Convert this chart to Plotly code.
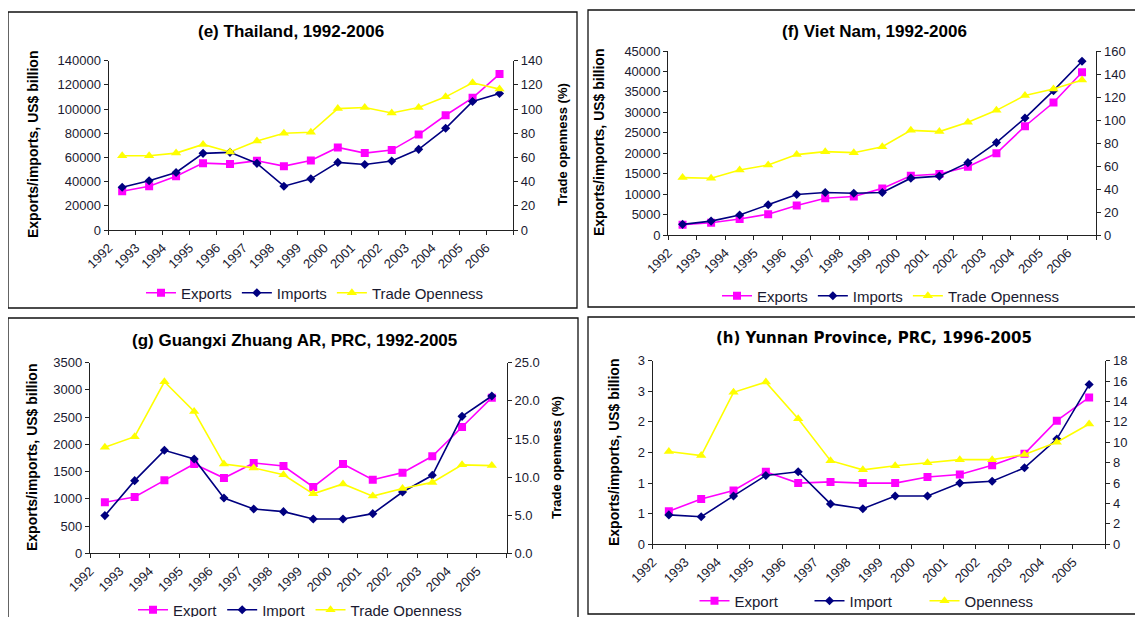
import plotly.graph_objects as go

W, H = 1143, 617
OX, OY = 8, 8  # page body margin of the html page

# ---------------- data ----------------
years_th = list(range(1992, 2007))
th_exports = [32100, 36200, 44500, 55300, 54500, 57300, 52800, 57500, 68300, 63600, 66100, 78900, 94900, 109300, 128900]
th_imports = [35400, 40700, 47600, 63400, 64200, 55100, 36200, 42300, 55900, 54200, 57000, 66700, 84100, 106300, 112900]
th_open = [61.4, 61.4, 63.6, 70.8, 64.5, 73.6, 80.0, 80.8, 100.4, 101.3, 96.8, 101.3, 110.1, 121.7, 116.5]

years_vn = list(range(1992, 2007))
vn_exports = [2500, 3000, 3900, 5100, 7200, 9000, 9400, 11400, 14500, 14900, 16700, 20000, 26600, 32400, 39800]
vn_imports = [2600, 3400, 4900, 7400, 9900, 10400, 10200, 10400, 13900, 14400, 17700, 22600, 28600, 35300, 42500]
vn_open = [49.9, 49.3, 56.5, 60.9, 69.9, 72.5, 71.6, 76.8, 91.0, 89.9, 98.0, 108.4, 121.4, 127.0, 134.8]

years_gx = list(range(1992, 2006))
gx_export = [936, 1034, 1340, 1640, 1383, 1658, 1603, 1218, 1640, 1352, 1481, 1781, 2319, 2858]
gx_import = [692, 1334, 1891, 1732, 1016, 814, 765, 630, 630, 728, 1126, 1432, 2515, 2889]
gx_open = [13.9, 15.3, 22.5, 18.6, 11.7, 11.2, 10.3, 7.8, 9.1, 7.5, 8.5, 9.3, 11.6, 11.5]

years_yn = list(range(1992, 2006))
yn_export = [0.54, 0.74, 0.88, 1.185, 1.0, 1.02, 1.0, 1.0, 1.10, 1.14, 1.29, 1.48, 2.02, 2.40]
yn_import = [0.48, 0.45, 0.79, 1.125, 1.185, 0.66, 0.58, 0.79, 0.79, 1.0, 1.03, 1.25, 1.72, 2.61]
yn_open = [9.1, 8.7, 14.9, 15.9, 12.3, 8.2, 7.3, 7.7, 8.0, 8.3, 8.3, 8.8, 10.0, 11.8]

yn_left_tickvals = [0, 0.5, 1.0, 1.5, 2.0, 2.5, 3.0]
yn_left_ticktext = ["0", "1", "1", "2", "2", "3", "3"]

ARIAL = "Liberation Sans, Arial, sans-serif"
VERD = "DejaVu Sans, Verdana, sans-serif"

panels = [
    dict(title="(e) Thailand, 1992-2006", tfont=(ARIAL, 17), years=years_th,
         s=[("Exports", th_exports), ("Imports", th_imports), ("Trade Openness", th_open)],
         box=(108.7, 60.7, 513, 230), yl=dict(range=[0, 140000], dtick=20000, tickformat="d"),
         yr=dict(range=[0, 140], dtick=20), title_xy=(291, 32),
         lt_xy=(33, 145), rt_xy=(563, 145), leg_xy=(315, 293), entry=None, frame=(8, 12, 577, 308)),
    dict(title="(f) Viet Nam, 1992-2006", tfont=(ARIAL, 17), years=years_vn,
         s=[("Exports", vn_exports), ("Imports", vn_imports), ("Trade Openness", vn_open)],
         box=(668.3, 51, 1096.3, 235), yl=dict(range=[0, 45000], dtick=5000, tickformat="d"),
         yr=dict(range=[0, 160], dtick=20), title_xy=(874, 32),
         lt_xy=(599, 143), rt_xy=(1145, 143), leg_xy=(891, 296), entry=None, frame=(588, 10, 1160, 307)),
    dict(title="(g) Guangxi Zhuang AR, PRC, 1992-2005", tfont=(ARIAL, 17), years=years_gx,
         s=[("Export", gx_export), ("Import", gx_import), ("Trade Openness", gx_open)],
         box=(90, 362.7, 506.7, 553.3), yl=dict(range=[0, 3500], dtick=500, tickformat="d"),
         yr=dict(range=[0, 25], dtick=5, tickformat=".1f"), title_xy=(294, 340),
         lt_xy=(32, 458), rt_xy=(556, 458), leg_xy=(300, 610), entry=None, frame=(8, 318, 578, 640)),
    dict(title="(h) Yunnan Province, PRC, 1996-2005", tfont=(VERD, 15), years=years_yn,
         s=[("Export", yn_export), ("Import", yn_import), ("Openness", yn_open)],
         box=(652.7, 360.7, 1105.3, 544.3),
         yl=dict(range=[0, 3], tickmode="array", tickvals=yn_left_tickvals, ticktext=yn_left_ticktext),
         yr=dict(range=[0, 18], dtick=2), title_xy=(874, 338),
         lt_xy=(614, 453), rt_xy=(1145, 453), leg_xy=(867, 601), entry=70, frame=(588, 317, 1160, 614)),
]

colors = ["#FF00FF", "#000080", "#FFFF00"]
symbols = ["square", "diamond", "triangle-up"]
msizes = [8, 7, 9]

TXT = "#1a1a30"

def px(x):
    return (x - OX) / W

def py(y):
    return 1 - (y - OY) / H

fig = go.Figure()
layout = dict(width=W, height=H, margin=dict(l=0, r=0, t=0, b=0, autoexpand=False),
              paper_bgcolor="white", plot_bgcolor="white", showlegend=True,
              font=dict(family=ARIAL, size=13, color=TXT))
annotations = []
shapes = []

for i, p in enumerate(panels):
    k = i + 1
    xa = "x" if k == 1 else f"x{k}"
    yl_id = 2 * i + 1
    yr_id = 2 * i + 2
    ya_l = "y" if yl_id == 1 else f"y{yl_id}"
    ya_r = f"y{yr_id}"
    leg = "legend" if k == 1 else f"legend{k}"
    x0, y0, x1, y1 = p["box"]
    yrs = p["years"]
    for j, (name, vals) in enumerate(p["s"]):
        fig.add_trace(go.Scatter(
            x=yrs, y=vals, name=name, mode="lines+markers",
            line=dict(color=colors[j], width=1.6),
            marker=dict(symbol=symbols[j], size=msizes[j], color=colors[j],
                        line=dict(width=0)),
            xaxis=xa, yaxis=ya_l if j < 2 else ya_r, legend=leg))
    tv = [y - 0.5 for y in yrs] + [yrs[-1] + 0.5]
    tt = [str(y) for y in yrs] + [""]
    axis_common = dict(showgrid=False, zeroline=False, showline=True, linecolor="#222",
                       linewidth=1.3, ticks="outside", ticklen=4, tickcolor="#222",
                       automargin=False,
                       tickfont=dict(family=ARIAL, size=13, color=TXT))
    layout["xaxis" if k == 1 else f"xaxis{k}"] = dict(
        domain=[px(x0), px(x1)], anchor=ya_l, range=[yrs[0] - 0.5, yrs[-1] + 0.5],
        tickmode="array", tickvals=tv, ticktext=tt, tickangle=-45, **axis_common)
    yl = dict(domain=[py(y1), py(y0)], anchor=xa, side="left", **axis_common)
    yl.update(p["yl"])
    yr = dict(domain=[py(y1), py(y0)], anchor=xa, side="right", overlaying=ya_l, **axis_common)
    yr.update(p["yr"])
    layout["yaxis" if yl_id == 1 else f"yaxis{yl_id}"] = yl
    layout[f"yaxis{yr_id}"] = yr
    legd = dict(orientation="h", x=px(p["leg_xy"][0]), y=py(p["leg_xy"][1]),
                xanchor="center", yanchor="middle", bgcolor="rgba(0,0,0,0)",
                font=dict(family=ARIAL, size=15, color=TXT), itemwidth=30,
                tracegroupgap=0)
    if p["entry"]:
        legd["entrywidth"] = p["entry"]
    layout[leg] = legd
    annotations.append(dict(text=f"<b>{p['title']}</b>", x=px(p["title_xy"][0]), y=py(p["title_xy"][1]),
                            xref="paper", yref="paper", showarrow=False, xanchor="center", yanchor="middle",
                            font=dict(family=p["tfont"][0], size=p["tfont"][1], color="#000")))
    annotations.append(dict(text="<b>Exports/imports, US$ billion</b>", x=px(p["lt_xy"][0]), y=py(p["lt_xy"][1]),
                            xref="paper", yref="paper", showarrow=False, textangle=-90,
                            xanchor="center", yanchor="middle",
                            font=dict(family=ARIAL, size=14, color="#000")))
    annotations.append(dict(text="<b>Trade openness (%)</b>", x=px(p["rt_xy"][0]), y=py(p["rt_xy"][1]),
                            xref="paper", yref="paper", showarrow=False, textangle=-90,
                            xanchor="center", yanchor="middle",
                            font=dict(family=ARIAL, size=13, color="#000")))
    fx0, fy0, fx1, fy1 = p["frame"]
    shapes.append(dict(type="rect", xref="paper", yref="paper", x0=px(fx0), x1=px(fx1),
                       y0=py(fy1), y1=py(fy0), line=dict(color="#111", width=1.3)))

layout["annotations"] = annotations
layout["shapes"] = shapes
fig.update_layout(**layout)
fig.write_html("out.html")
